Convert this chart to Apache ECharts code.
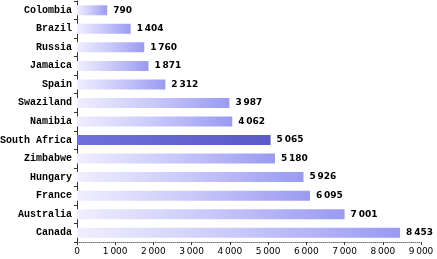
<!DOCTYPE html>
<html><head><meta charset="utf-8">
<script src="https://cdn.jsdelivr.net/npm/echarts@6/dist/echarts.min.js"></script>
<style>html,body{margin:0;padding:0;background:#fff}#c{width:437px;height:259px}</style>
</head><body><div id="c"></div>
<script>
var categories = ["Canada","Australia","France","Hungary","Zimbabwe","South Africa","Namibia","Swaziland","Spain","Jamaica","Russia","Brazil","Colombia"];
var values = [8453,7001,6095,5926,5180,5065,4062,3987,2312,1871,1760,1404,790];
var highlight = "South Africa";
var xTicks = [0,1000,2000,3000,4000,5000,6000,7000,8000,9000];

function fmt(v){ return String(v).replace(/\B(?=(\d{3})+(?!\d))/g, '\u2009'); }
var normalGrad = new echarts.graphic.LinearGradient(0,0,1,0,[{offset:0,color:'#f0eeff'},{offset:0.5,color:'#c8c8fa'},{offset:1,color:'#9a9af2'}]);
var hiGrad = new echarts.graphic.LinearGradient(0,0,1,0,[{offset:0,color:'#7070d8'},{offset:1,color:'#5a5ac8'}]);
var data = values.map(function(v,i){
  return {value:v, itemStyle:{color: categories[i]===highlight ? hiGrad : normalGrad}};
});
var chart = echarts.init(document.getElementById('c'), null, {renderer:'canvas'});
chart.setOption({
  animation:false,
  grid:{left:77,right:16,top:1,bottom:17,containLabel:false,outerBoundsMode:'none'},
  xAxis:{type:'value',min:xTicks[0],max:xTicks[xTicks.length-1],interval:1000,
    axisLine:{show:true,lineStyle:{color:'#777',type:'dotted',width:1}},
    axisTick:{show:true,length:3,lineStyle:{color:'#333'}},
    splitLine:{show:false},
    axisLabel:{formatter:function(v){return fmt(v);},fontFamily:'DejaVu Sans',fontSize:9,color:'#000',margin:5}
  },
  yAxis:{type:'category',data:categories,
    axisLine:{show:true,lineStyle:{color:'#333',width:1}},
    axisTick:{show:true,length:3,lineStyle:{color:'#333'}},
    axisLabel:{fontFamily:'Liberation Mono',fontSize:10,fontWeight:'bold',color:'#000',margin:5}
  },
  series:[{type:'bar',data:data,barWidth:10,
    label:{show:true,position:'right',distance:6,formatter:function(p){return fmt(p.value);},fontFamily:'DejaVu Sans',fontSize:9,fontWeight:'bold',color:'#000'}
  }]
});
</script></body></html>
